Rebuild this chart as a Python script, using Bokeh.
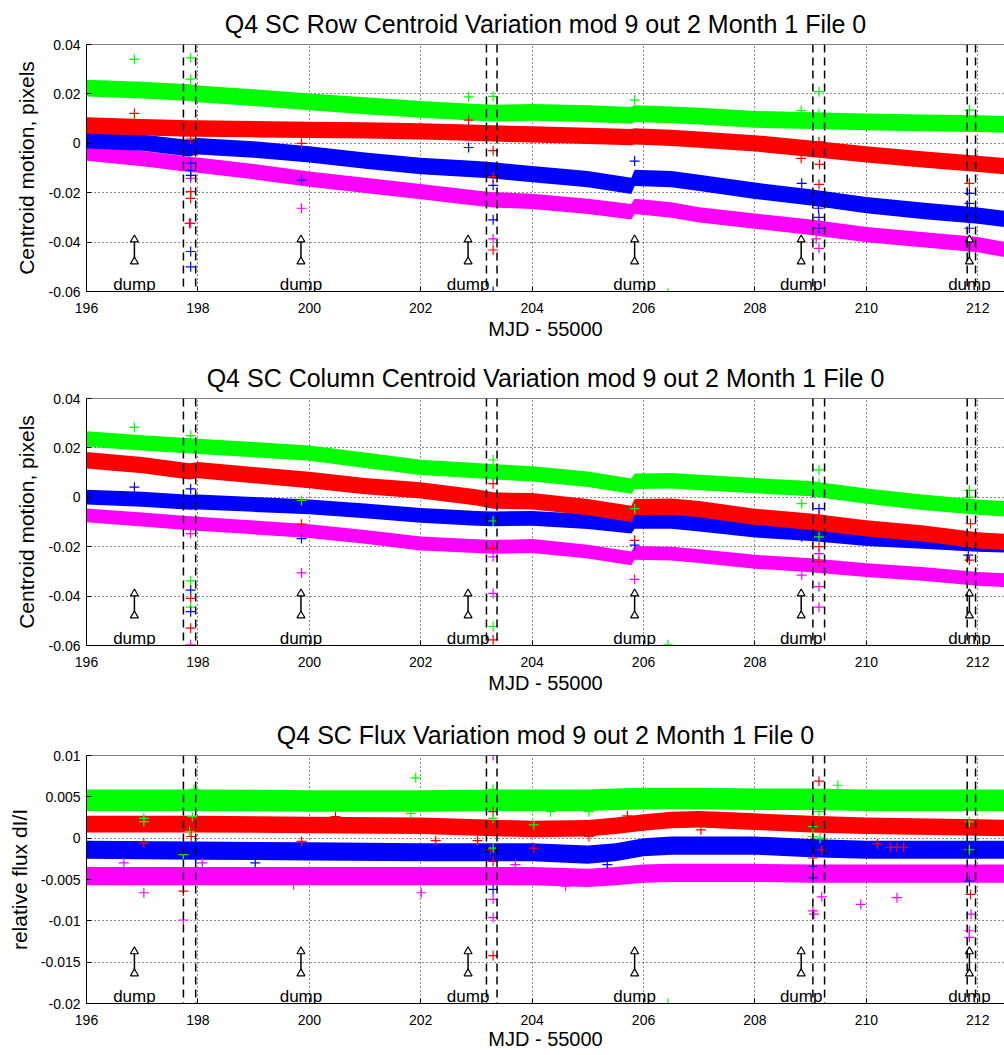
import numpy as np
from bokeh.plotting import figure
from bokeh.layouts import column
from bokeh.models import Range1d, Span
from bokeh.core.properties import value
from bokeh.embed import file_html
from bokeh.resources import INLINE

FONT = "Liberation Sans"
COLORS = {"g": "#00ff00", "r": "#ff0000", "b": "#0000ff", "m": "#ff00ff"}

# ---------------- shared axis data ----------------
x_ticks = [196, 198, 200, 202, 204, 206, 208, 210, 212]
x_start, x_end = 196, 212.48
dump_x = [196.86, 199.85, 202.85, 205.84, 208.83, 211.85]
dash_x = [197.74, 197.96, 203.18, 203.37, 209.04, 209.25, 211.81, 211.96]

# ---------------- panel 1: row centroid ----------------
row_y_ticks = [-0.06, -0.04, -0.02, 0, 0.02, 0.04]
row_y_labels = ["-0.06", "-0.04", "-0.02", "0", "0.02", "0.04"]
row_x = [196, 197, 197.85, 198, 199, 200, 201, 202, 203, 203.3, 204, 205, 205.78, 205.84,
         206.5, 207, 208, 209, 210, 211, 212, 212.6]
row_green = [0.0223, 0.0215, 0.0205, 0.0200, 0.0185, 0.0168, 0.0152, 0.0137, 0.0125, 0.0122, 0.0125,
             0.0120, 0.0113, 0.0120, 0.0115, 0.0110, 0.0097, 0.0092, 0.0087, 0.0083, 0.0080, 0.0076]
row_red = [0.0072, 0.0065, 0.0060, 0.0060, 0.0057, 0.0054, 0.0052, 0.0048, 0.0042, 0.0040, 0.0036,
           0.0030, 0.0025, 0.0028, 0.0022, 0.0015, 0.0000, -0.0022, -0.0045, -0.0065, -0.0083, -0.0095]
row_blue = [0.0012, 0.0003, -0.0020, -0.0012, -0.0025, -0.0045, -0.0070, -0.0092, -0.0105, -0.0110,
            -0.0125, -0.0145, -0.0172, -0.0140, -0.0145, -0.0160, -0.0192, -0.0219, -0.0250, -0.0273,
            -0.0293, -0.0310]
row_magenta = [-0.0040, -0.0062, -0.0085, -0.0088, -0.0115, -0.0145, -0.0170, -0.0196, -0.0222, -0.0229,
               -0.0235, -0.0255, -0.0277, -0.0255, -0.0270, -0.0290, -0.0315, -0.0340, -0.0370, -0.0390,
               -0.0410, -0.0435]
row_halfwidth = {"g": 0.0034, "r": 0.0033, "b": 0.0033, "m": 0.0031}
row_out_x = [196.86, 197.87, 197.87, 196.86, 197.87, 197.87, 197.87, 197.87, 197.87, 197.85, 197.87,
             197.87, 197.87, 197.87, 197.87, 199.86, 199.86, 199.86, 202.86, 202.86, 202.86, 203.30,
             203.30, 203.30, 203.30, 203.30, 203.30, 203.30, 203.30, 205.84, 205.84, 206.44, 208.83,
             208.83, 208.84, 209.10, 209.15, 209.15, 209.15, 209.16, 209.15, 209.14, 209.15, 209.15,
             209.15, 209.15, 211.85, 211.85, 211.85, 211.85, 211.85, 211.85]
row_out_y = [0.0340, 0.0346, 0.0260, 0.0121, 0.0017, -0.0142, -0.0196, -0.0223, -0.0324, -0.0324, -0.0438,
             -0.0500, -0.0080, -0.0110, -0.0130, 0.0000, -0.0149, -0.0263, 0.0188, 0.0094, -0.0017, 0.0190,
             -0.0030, -0.0135, -0.0170, -0.0310, -0.0387, -0.0432, -0.0600, 0.0175, -0.0072, -0.0607, 0.0132,
             -0.0061, -0.0162, -0.0387, 0.0209, 0.0121, 0.0006, -0.0085, -0.0166, -0.0263, -0.0300, -0.0324,
             -0.0344, -0.0425, 0.0134, -0.0162, -0.0203, -0.0243, -0.0344, -0.0398]
row_out_c = ["g", "g", "g", "r", "r", "m", "r", "r", "m", "r", "b",
             "b", "b", "b", "b", "r", "b", "m", "g", "r", "b", "g",
             "r", "r", "b", "b", "m", "r", "b", "g", "b", "g", "g",
             "r", "b", "m", "g", "g", "r", "r", "r", "b", "b", "m",
             "b", "m", "g", "r", "b", "b", "b", "m"]

# ---------------- panel 2: column centroid ----------------
col_y_ticks = row_y_ticks
col_y_labels = row_y_labels
col_x = row_x
col_green = [0.0236, 0.0220, 0.0208, 0.0206, 0.0193, 0.0179, 0.0150, 0.0121, 0.0108, 0.0103, 0.0095,
             0.0073, 0.0045, 0.0065, 0.0067, 0.0060, 0.0047, 0.0035, 0.0005, -0.0020, -0.0040, -0.0048]
col_red = [0.0150, 0.0130, 0.0105, 0.0110, 0.0090, 0.0070, 0.0045, 0.0028, 0.0000, -0.0013, -0.0016,
           -0.0040, -0.0067, -0.0040, -0.0038, -0.0048, -0.0079, -0.0099, -0.0126, -0.0146, -0.0174, -0.0182]
col_blue = [0.0001, -0.0008, -0.0020, -0.0019, -0.0029, -0.0039, -0.0055, -0.0073, -0.0085, -0.0087,
            -0.0085, -0.0098, -0.0117, -0.0097, -0.0097, -0.0108, -0.0133, -0.0147, -0.0167, -0.0178,
            -0.0190, -0.0195]
col_magenta = [-0.0073, -0.0090, -0.0105, -0.0107, -0.0122, -0.0137, -0.0160, -0.0187, -0.0198, -0.0201,
               -0.0197, -0.0220, -0.0247, -0.0225, -0.0228, -0.0238, -0.0261, -0.0275, -0.0295, -0.0310,
               -0.0330, -0.0337]
col_halfwidth = {"g": 0.0031, "r": 0.0033, "b": 0.0030, "m": 0.0028}
col_out_x = [196.86, 196.86, 197.87, 197.87, 197.87, 197.87, 197.87, 197.87, 197.87, 197.87, 197.87,
             197.87, 199.86, 199.86, 199.86, 199.86, 203.30, 203.30, 203.30, 203.30, 203.30, 203.30,
             203.30, 203.30, 205.84, 205.84, 205.84, 205.84, 206.44, 208.84, 208.84, 208.84, 209.15,
             209.15, 209.15, 209.15, 209.15, 209.15, 209.15, 209.15, 209.15, 209.15, 211.85, 211.85,
             211.87, 211.83, 211.85]
col_out_y = [0.0283, 0.0041, 0.0250, 0.0034, -0.0147, -0.0338, -0.0376, -0.0409, -0.0445, -0.0463, -0.0530,
             -0.0597, -0.0013, -0.0109, -0.0167, -0.0306, 0.0151, 0.0055, -0.0096, -0.0207, -0.0241, -0.0389,
             -0.0523, -0.0577, -0.0046, -0.0174, -0.0194, -0.0332, -0.0597, -0.0026, -0.0160, -0.0315, 0.0111,
             0.0055, -0.0046, -0.0073, -0.0160, -0.0200, -0.0228, -0.0261, -0.0362, -0.0445, 0.0028, 0.0001,
             -0.0107, -0.0234, -0.0254]
col_out_c = ["g", "b", "g", "b", "m", "g", "b", "r", "g", "b", "r",
             "m", "g", "r", "b", "m", "g", "r", "g", "r", "m", "m",
             "g", "r", "g", "r", "b", "m", "g", "g", "b", "m", "g",
             "g", "b", "r", "g", "r", "m", "r", "m", "m", "g", "g",
             "r", "b", "r"]

# ---------------- panel 3: flux ----------------
flux_y_ticks = [-0.02, -0.015, -0.01, -0.005, 0, 0.005, 0.01]
flux_y_labels = ["-0.02", "-0.015", "-0.01", "-0.005", "0", "0.005", "0.01"]
flux_x = [196, 198, 200, 202, 204, 205, 205.5, 206, 206.5, 207, 208, 209, 210, 212, 212.6]
flux_green = [0.0046, 0.0046, 0.0045, 0.0045, 0.0046, 0.0046, 0.0047, 0.0048, 0.0048, 0.0048, 0.0047,
              0.0047, 0.0046, 0.0046, 0.0046]
flux_red = [0.0017, 0.0017, 0.0016, 0.0015, 0.0011, 0.0012, 0.0015, 0.0019, 0.0022, 0.0023, 0.0020,
            0.0017, 0.0015, 0.0013, 0.0012]
flux_blue = [-0.0014, -0.0015, -0.0016, -0.0017, -0.0017, -0.0020, -0.0017, -0.0011, -0.0009, -0.0009,
             -0.0009, -0.0012, -0.0014, -0.0014, -0.0014]
flux_magenta = [-0.0046, -0.0046, -0.0046, -0.0046, -0.0046, -0.0048, -0.0046, -0.0043, -0.0042, -0.0042,
                -0.0042, -0.0043, -0.0043, -0.0043, -0.0043]
flux_halfwidth = {"g": 0.0013, "r": 0.0010, "b": 0.0011, "m": 0.0011}
flux_out_x = [197.03, 197.03, 197.03, 197.03, 196.67, 197.74, 197.74, 197.74, 197.74, 197.85, 197.88,
              197.90, 197.93, 198.08, 199.03, 199.72, 199.86, 200.47, 201.91, 201.82, 202.01, 202.27,
              203.02, 203.30, 203.30, 203.30, 203.30, 203.25, 203.30, 203.30, 203.30, 203.30, 203.30,
              203.30, 204.03, 204.03, 204.33, 203.70, 205.02, 205.02, 205.71, 204.60, 205.35, 207.03,
              206.44, 209.04, 209.04, 209.04, 209.04, 209.04, 209.04, 209.06, 209.15, 209.15, 209.17,
              209.20, 209.20, 209.49, 210.20, 210.43, 210.55, 210.67, 209.90, 210.55, 211.85, 211.85,
              211.87, 211.88, 211.85, 211.85, 211.85]
flux_out_y = [0.0024, 0.0020, -0.0006, -0.0066, -0.0030, -0.0055, -0.0064, -0.0099, -0.0020, 0.0008, 0.0002,
              0.0026, 0.0059, -0.0030, -0.0030, -0.0056, -0.0004, 0.0026, 0.0073, 0.0030, -0.0066, -0.0003,
              -0.0003, 0.0100, 0.0059, 0.0032, 0.0024, -0.0014, -0.0012, -0.0028, -0.0062, -0.0074, -0.0096,
              -0.0142, 0.0016, -0.0012, 0.0032, -0.0032, 0.0032, 0.0002, 0.0027, -0.0058, -0.0032, 0.0010,
              -0.0200, 0.0014, 0.0002, -0.0024, -0.0034, -0.0048, -0.0088, -0.0092, 0.0069, 0.0032, 0.0000,
              -0.0014, -0.0071, 0.0064, -0.0007, -0.0011, -0.0011, -0.0011, -0.0080, -0.0072, 0.0020, -0.0014,
              -0.0068, -0.0092, -0.0052, -0.0112, -0.0120]
flux_out_c = ["g", "g", "r", "m", "m", "m", "r", "m", "g", "g", "r",
              "g", "g", "m", "b", "m", "r", "r", "g", "g", "m", "r",
              "r", "m", "g", "r", "g", "r", "g", "r", "b", "m", "m",
              "r", "g", "r", "g", "m", "g", "r", "r", "m", "b", "r",
              "g", "g", "g", "r", "b", "b", "m", "m", "r", "g", "g",
              "r", "m", "g", "r", "r", "r", "r", "m", "m", "g", "g",
              "r", "m", "b", "m", "m"]


def make_panel(title, ylabel, y_ticks, y_labels, knots_x, series, halfwidth,
               out_x, out_y, out_c, height, top, bottom, ylabel_standoff, xlabel_standoff):
    ymin, ymax = min(y_ticks), max(y_ticks)
    p = figure(width=1004, height=height, output_backend="svg", toolbar_location=None,
               x_range=Range1d(x_start, x_end), y_range=Range1d(ymin, ymax),
               min_border_left=86, min_border_right=0, min_border_top=top, min_border_bottom=bottom,
               title=title)
    p.extra_y_ranges = {"frac": Range1d(0, 1)}
    p.outline_line_color = None
    p.background_fill_color = "white"
    p.border_fill_color = "white"

    p.title.align = "center"
    p.title.text_font = FONT
    p.title.text_font_size = "25px"
    p.title.text_font_style = "normal"
    p.title.text_color = "black"
    p.title.standoff = 14

    for ax in (p.xaxis, p.yaxis):
        ax.axis_line_color = "black"
        ax.major_tick_line_color = "black"
        ax.major_tick_in = 5
        ax.major_tick_out = 0
        ax.minor_tick_line_color = None
        ax.major_label_text_font = FONT
        ax.major_label_text_font_size = "14px"
        ax.major_label_text_color = "black"
        ax.axis_label_text_font = FONT
        ax.axis_label_text_font_style = "normal"
        ax.axis_label_text_color = "black"

    p.xaxis.ticker = x_ticks
    p.xaxis.major_label_standoff = 11
    p.xaxis.axis_label = "MJD - 55000"
    p.xaxis.axis_label_text_font_size = "20px"
    p.xaxis.axis_label_standoff = xlabel_standoff

    p.yaxis.ticker = y_ticks
    p.yaxis.major_label_overrides = {t: l for t, l in zip(y_ticks, y_labels)}
    p.yaxis.major_label_standoff = 6
    p.yaxis.axis_label = ylabel
    p.yaxis.axis_label_text_font_size = "21px"
    p.yaxis.axis_label_standoff = ylabel_standoff

    for g in (p.xgrid, p.ygrid):
        g.grid_line_color = "black"
        g.grid_line_dash = "1 3"
        g.grid_line_width = 1
        g.grid_line_alpha = 0.9

    # noisy bands of the four stars
    kx = np.array(knots_x)
    for key in ("m", "b", "g", "r"):
        c = np.array(series[key])
        p.varea(x=kx, y1=c - halfwidth[key], y2=c + halfwidth[key], fill_color=COLORS[key])

    # outliers
    p.scatter(out_x, out_y, marker="cross", size=10, line_width=1.2,
              line_color=[COLORS[k] for k in out_c])

    # top border
    p.add_layout(Span(location=ymax, dimension="width", line_color="black", line_width=1))

    # momentum-dump markers
    n = len(dump_x)
    p.segment(x0=dump_x, y0=[0.121] * n, x1=dump_x, y1=[0.21] * n, y_range_name="frac",
              line_color="black", line_width=1.5)
    p.scatter(dump_x, [0.21] * n, marker="triangle", size=8, y_range_name="frac",
              line_color="black", fill_color="white", line_width=1.2)
    p.scatter(dump_x, [0.121] * n, marker="triangle", size=8, y_range_name="frac",
              line_color="black", fill_color="white", line_width=1.2)
    p.text(dump_x, [0.03] * n, text=["dump"] * n, y_range_name="frac",
           text_font=value(FONT), text_font_size="17px", text_align="center",
           text_baseline="alphabetic", text_color="black")

    # dashed event lines
    for dx in dash_x:
        p.add_layout(Span(location=dx, dimension="height", line_color="black",
                          line_dash="8 5", line_width=1.5))
    return p


p1 = make_panel("Q4 SC Row Centroid Variation mod 9 out 2 Month 1 File 0",
                "Centroid motion, pixels", row_y_ticks, row_y_labels, row_x,
                {"g": row_green, "r": row_red, "b": row_blue, "m": row_magenta}, row_halfwidth,
                row_out_x, row_out_y, row_out_c, height=354, top=44, bottom=63,
                ylabel_standoff=8, xlabel_standoff=2)
p2 = make_panel("Q4 SC Column Centroid Variation mod 9 out 2 Month 1 File 0",
                "Centroid motion, pixels", col_y_ticks, col_y_labels, col_x,
                {"g": col_green, "r": col_red, "b": col_blue, "m": col_magenta}, col_halfwidth,
                col_out_x, col_out_y, col_out_c, height=357, top=44, bottom=66,
                ylabel_standoff=8, xlabel_standoff=2)
p3 = make_panel("Q4 SC Flux Variation mod 9 out 2 Month 1 File 0",
                "relative flux dI/I", flux_y_ticks, flux_y_labels, flux_x,
                {"g": flux_green, "r": flux_red, "b": flux_blue, "m": flux_magenta}, flux_halfwidth,
                flux_out_x, flux_out_y, flux_out_c, height=343, top=44, bottom=51,
                ylabel_standoff=7, xlabel_standoff=0)

layout = column(p1, p2, p3, spacing=0)
open("out.html", "w").write(file_html(layout, INLINE))
